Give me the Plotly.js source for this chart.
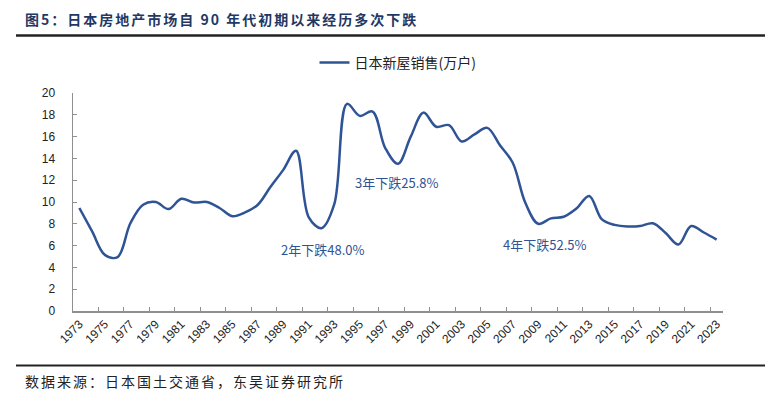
<!DOCTYPE html>
<html>
<head>
<meta charset="utf-8">
<script src="https://cdn.plot.ly/plotly-3.0.1.min.js"></script>
<style>html,body{margin:0;padding:0;background:#fff;}#chart{width:778px;height:399px;}</style>
</head>
<body>
<div id="chart"></div>
<script>
// Data
const years = [1973,1974,1975,1976,1977,1978,1979,1980,1981,1982,1983,1984,1985,1986,1987,1988,1989,1990,1991,1992,1993,1994,1995,1996,1997,1998,1999,2000,2001,2002,2003,2004,2005,2006,2007,2008,2009,2010,2011,2012,2013,2014,2015,2016,2017,2018,2019,2020,2021,2022,2023];
const sales = [9.45,7.3,5.15,4.95,8.05,9.75,10.0,9.35,10.3,9.95,10.0,9.45,8.7,9.05,9.75,11.4,12.95,14.7,8.6,7.6,9.8,19.0,17.9,18.3,14.95,13.5,16.0,18.2,16.9,17.05,15.55,16.2,16.8,15.2,13.6,9.9,8.0,8.5,8.65,9.4,10.55,8.4,7.9,7.75,7.8,8.05,7.15,6.1,7.8,7.2,6.55];
const seriesName = '日本新屋销售(万户)';
const tickLabelYears = [1973,1975,1977,1979,1981,1983,1985,1987,1989,1991,1993,1995,1997,1999,2001,2003,2005,2007,2009,2011,2013,2015,2017,2019,2021,2023];
const boundaryTicks = [1972.5,1974.5,1976.5,1978.5,1980.5,1982.5,1984.5,1986.5,1988.5,1990.5,1992.5,1994.5,1996.5,1998.5,2000.5,2002.5,2004.5,2006.5,2008.5,2010.5,2012.5,2014.5,2016.5,2018.5,2020.5,2022.5];
const notes = [
  {text:'2年下跌48.0%', x:1992.1, y:5.6},
  {text:'3年下跌25.8%', x:1997.85, y:11.75},
  {text:'4年下跌52.5%', x:2009.5, y:6.1}
];
const titleText = '图5：日本房地产市场自 90 年代初期以来经历多次下跌';
const sourceText = '数据来源：日本国土交通省，东吴证券研究所';

const W = 778, H = 399, L = 73, R = 55, T = 93, B = 88;
const pw = W - L - R, ph = H - T - B;
const px = v => (v - L) / pw;
const py = v => (H - B - v) / ph;

const blue = 'rgb(46,84,150)';
const axisGray = '#8f8f8f';
const cjk = '"Noto Sans CJK SC", "Noto Sans", sans-serif';
const num = 'Arial, "Liberation Sans", sans-serif';

const traces = [
  {x: years, y: sales, type:'scatter', mode:'lines', name: seriesName,
   line:{color: blue, width:2.5, shape:'spline', smoothing:1.0}, hoverinfo:'x+y'},
  {x:[1972.5,2023.5], y:[null,null], xaxis:'x2', type:'scatter', mode:'lines', showlegend:false, hoverinfo:'skip'}
];

const annotations = notes.map(n => ({
  text: n.text, x: n.x, y: n.y, xref:'x', yref:'y', showarrow:false,
  font:{family: cjk, size:13, color: blue}
}));
annotations.push({
  text: sourceText, xref:'paper', yref:'paper', x: px(23), y: py(381),
  xanchor:'left', yanchor:'middle', align:'left', showarrow:false,
  font:{family: cjk, size:14, color:'#222'}
});

const layout = {
  width: W, height: H,
  margin:{l:L, r:R, t:T, b:B},
  paper_bgcolor:'#fff', plot_bgcolor:'#fff',
  title:{text: '<b>' + titleText + '</b>', x: 25/W, xanchor:'left', xref:'container',
         y: 1 - 20.5/H, yanchor:'middle', yref:'container',
         font:{family: cjk, size:14, color:'#1f3864'}},
  showlegend: true,
  legend:{orientation:'h', x:0.5, xanchor:'center', y: py(63), yanchor:'middle',
          font:{family: cjk, size:14, color:'#222'}, itemwidth:30},
  xaxis:{range:[1972.5,2023.5], tickvals: tickLabelYears, ticktext: tickLabelYears.map(String),
         ticks:'', tickangle:-45, showline:true, linecolor: axisGray, linewidth:1.5,
         showgrid:false, zeroline:false, tickfont:{family: num, size:12, color:'#222'}},
  xaxis2:{range:[1972.5,2023.5], overlaying:'x', anchor:'y', side:'bottom',
          tickvals: boundaryTicks, ticks:'inside', ticklen:4, tickwidth:1, tickcolor: axisGray,
          showticklabels:false, showline:false, showgrid:false, zeroline:false},
  yaxis:{range:[0,20], dtick:2, ticks:'inside', ticklen:4, tickwidth:1, tickcolor: axisGray,
         showline:true, linecolor: axisGray, linewidth:1.5, showgrid:false, zeroline:false,
         ticklabelstandoff:14, tickfont:{family: num, size:12, color:'#222'}},
  shapes:[
    {type:'line', xref:'paper', yref:'paper', x0:px(16), x1:px(765), y0:py(35.5), y1:py(35.5),
     line:{color:'#222', width:2.5}},
    {type:'line', xref:'paper', yref:'paper', x0:px(16), x1:px(765), y0:py(365.5), y1:py(365.5),
     line:{color:'#222', width:2}}
  ],
  annotations: annotations
};

Plotly.newPlot('chart', traces, layout, {displayModeBar:false, staticPlot:true}).then(gd => {
  const t = gd.querySelector('text.gtitle');
  if (t) t.style.letterSpacing = '2px';
  const anns = gd.querySelectorAll('g.annotation text.annotation-text');
  if (anns.length) anns[anns.length - 1].style.letterSpacing = '2px';
});
</script>
</body>
</html>
